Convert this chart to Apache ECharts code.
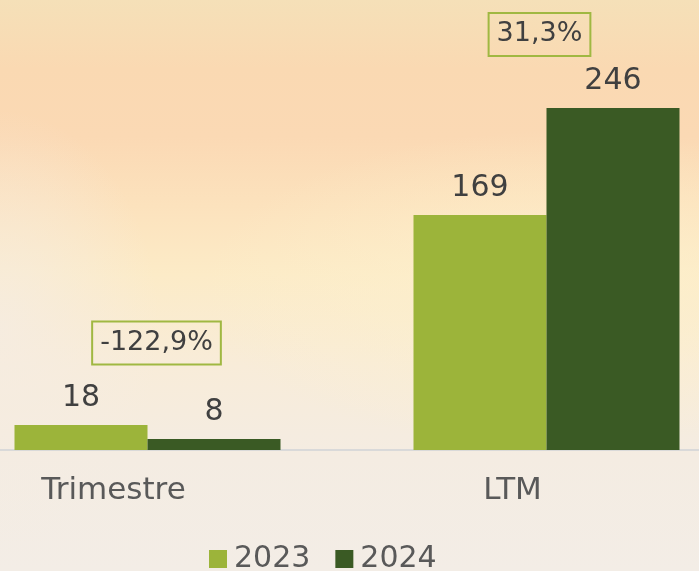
<!DOCTYPE html>
<html>
<head>
<meta charset="utf-8">
<script src="https://cdn.jsdelivr.net/npm/echarts@6/dist/echarts.min.js"></script>
<style>
  html, body { margin: 0; padding: 0; }
  #main {
    width: 699px; height: 571px;
    background:
      radial-gradient(ellipse 160px 220px at 0px 330px, rgba(245,236,226,0.8), rgba(245,236,226,0)),
      radial-gradient(ellipse 360px 160px at 560px 290px, rgba(253,240,204,0.8), rgba(253,240,204,0)),
      linear-gradient(to bottom, #f5e0b8 0%, #fad9b2 12%, #fbd9b4 24%, #fce2bd 36%, #fcebc7 48%, #f8ecd9 64%, #f4ece2 80%, #f3ede6 100%);
  }
</style>
</head>
<body>
<div id="main"></div>
<script>
// dados
var categorias = ['Trimestre', 'LTM'];
var anos = ['2023', '2024'];
var valores2023 = [18, 169];
var valores2024 = [8, 246];
var variacoes = ['-122,9%', '31,3%'];
var variacaoY = [77, 299];   // altura da caixa de variação (escala do eixo)

var COR_2023 = '#9cb43a';
var COR_2024 = '#3a5a24';
var FONTE = '"DejaVu Sans", sans-serif';

var chart = echarts.init(document.getElementById('main'));

var rotulo = {
  show: true,
  position: 'top',
  distance: 12,
  fontSize: 30,
  fontFamily: FONTE,
  color: '#404040'
};

var option = {
  backgroundColor: 'transparent',
  animation: false,
  grid: { left: -52, right: -47, top: 33, bottom: 121, outerBoundsMode: 'none' },
  legend: {
    data: anos,
    bottom: -8,
    left: 204,
    itemWidth: 18,
    itemHeight: 18,
    itemGap: 25,
    icon: 'rect',
    textStyle: { fontSize: 30, fontFamily: FONTE, color: '#595959', padding: [0, 0, 0, 2] }
  },
  xAxis: {
    type: 'category',
    data: categorias,
    axisTick: { show: false },
    axisLine: { lineStyle: { color: '#d9d9d9', width: 2 } },
    axisLabel: {
      fontSize: 31,
      fontFamily: FONTE,
      color: '#595959',
      margin: 25,
      padding: [0, 68, 0, 0]
    }
  },
  yAxis: {
    type: 'value',
    min: 0,
    max: 300,
    show: false,
    splitLine: { show: false }
  },
  series: [
    {
      name: anos[0],
      type: 'bar',
      data: valores2023,
      barWidth: 133,
      barGap: '0%',
      itemStyle: { color: COR_2023 },
      label: rotulo
    },
    {
      name: anos[1],
      type: 'bar',
      data: valores2024,
      barWidth: 133,
      itemStyle: { color: COR_2024 },
      label: rotulo
    },
    {
      name: 'variacao',
      type: 'scatter',
      symbolSize: 1,
      itemStyle: { color: 'rgba(0,0,0,0)', opacity: 1 },
      silent: true,
      data: variacoes.map(function (v, i) {
        return {
          value: [i, variacaoY[i]],
          label: { offset: [i === 0 ? 9 : -7, 0] }
        };
      }),
      label: {
        show: true,
        position: 'inside',
        formatter: function (p) { return variacoes[p.dataIndex]; },
        fontSize: 27,
        fontFamily: FONTE,
        color: '#404040',
        opacity: 1,
        borderColor: '#a0b842',
        borderWidth: 2,
        padding: [9, 8, 7, 8]
      }
    }
  ]
};

chart.setOption(option);
</script>
</body>
</html>
